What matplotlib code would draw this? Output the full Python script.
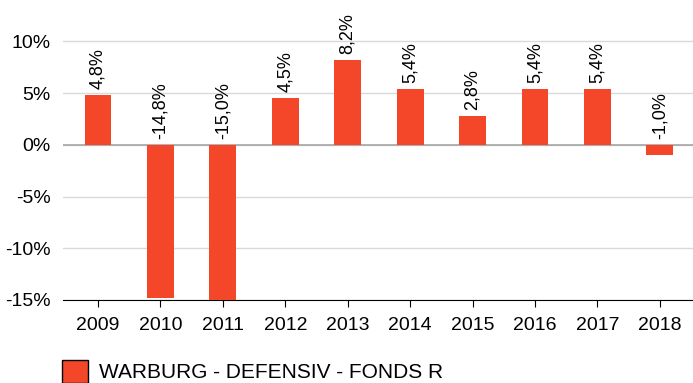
import matplotlib.pyplot as plt
from matplotlib.patches import Patch

years = ['2009', '2010', '2011', '2012', '2013', '2014', '2015', '2016', '2017', '2018']
returns = [4.8, -14.8, -15.0, 4.5, 8.2, 5.4, 2.8, 5.4, 5.4, -1.0]
fund_name = 'WARBURG - DEFENSIV - FONDS R'
bar_color = '#F4472A'

plt.rcParams['font.family'] = ['Liberation Sans', 'DejaVu Sans']

fig = plt.figure(figsize=(6.93, 3.83), dpi=100)
ax = fig.add_axes([63 / 693, 1 - 300 / 383, 630 / 693, 300 / 383])

x = range(len(years))
ax.bar(x, returns, width=0.43, color=bar_color, zorder=3)

for xi, v in zip(x, returns):
    ax.text(xi, max(v, 0) + 0.6, f'{v:.1f}%'.replace('.', ','),
            rotation=90, ha='center', va='bottom', fontsize=13, zorder=4)

ax.set_xlim(-0.56, 9.53)
ax.set_ylim(-15, 14)
ax.set_yticks([-15, -10, -5, 0, 5, 10])
ax.set_yticklabels([f'{t}%' for t in [-15, -10, -5, 0, 5, 10]], fontsize=14)
ax.set_xticks(list(x))
ax.set_xticklabels(years, fontsize=14)

ax.grid(axis='y', color='#d9d9d9', linewidth=1, zorder=0)
ax.axhline(0, color='#a6a6a6', linewidth=1.2, zorder=2)
for side in ['top', 'right', 'left']:
    ax.spines[side].set_visible(False)
ax.spines['bottom'].set_color('black')
ax.tick_params(axis='y', length=0, pad=9)
ax.tick_params(axis='x', length=5, color='black', pad=7)

fig.legend(handles=[Patch(facecolor=bar_color, edgecolor='black', linewidth=1)],
           labels=[fund_name], loc='lower left', bbox_to_anchor=(54 / 693, -8 / 383),
           frameon=False, fontsize=15, handlelength=1.25, handleheight=1.3,
           handletextpad=0.5, borderaxespad=0)

fig.savefig('out.png', dpi=100)
